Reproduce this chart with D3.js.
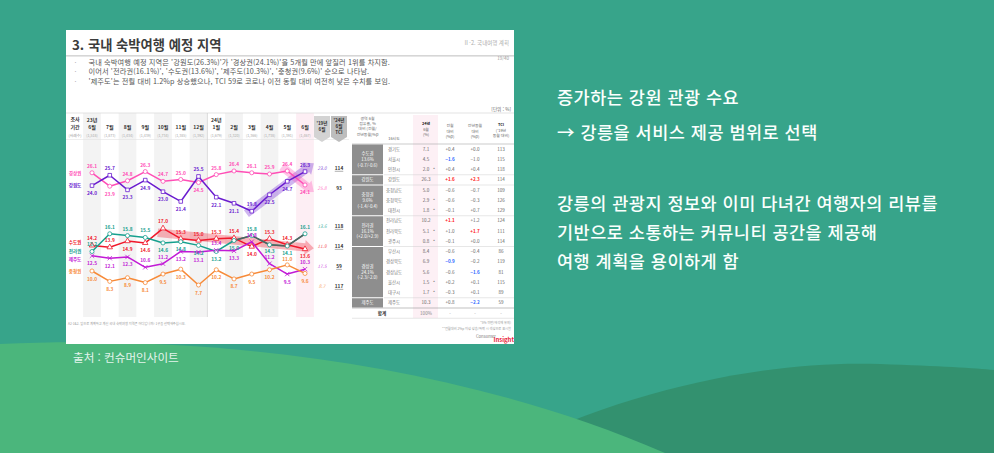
<!DOCTYPE html>
<html lang="ko">
<head>
<meta charset="utf-8">
<script src="https://cdn.jsdelivr.net/npm/d3@7"></script>
<style>
  body { margin: 0; background: #37a48a; overflow: hidden; }
  svg text { font-family: "Noto Sans CJK KR", "Noto Sans", sans-serif; }
</style>
</head>
<body>
<svg id="slide" width="994" height="453"></svg>
<script>
// ---- values ----
const months = ["23년 6월","7월","8월","9월","10월","11월","12월","24년 1월","2월","3월","4월","5월","6월"];
const sampleSizes = ["1,518","1,873","1,434","1,439","1,734","1,385","1,392","1,679","1,320","1,366","1,738","1,391","1,467"];

const seriesNames = ["경상권","강원도","수도권","전라권","제주도","충청권"];
const gyeongsang  = [26.1,23.9,24.8,26.3,24.7,25.0,24.5,25.8,26.4,26.1,25.9,26.4,24.1];
const gangwon     = [24.0,25.7,23.3,24.9,23.0,21.4,25.5,22.1,21.1,19.8,22.5,24.7,26.3];
const sudo        = [14.2,13.9,14.9,14.6,17.0,15.3,15.0,15.3,15.4,14.0,15.3,14.3,13.6];
const jeolla      = [13.2,16.1,15.8,15.5,14.6,14.8,14.2,13.2,15.0,15.8,14.3,14.1,16.1];
const jeju        = [12.5,12.1,12.3,10.6,11.2,13.2,13.1,13.4,13.3,14.8,11.2,9.5,10.3];
const chungcheong = [10.0,8.3,8.9,8.1,9.5,10.3,7.7,10.2,8.7,9.5,10.2,11.0,9.6];
const share2019   = [25.8,23.0,11.9,13.6,17.5,8.7];
const tci2024     = [93,114,114,118,59,117];

// trend highlights (series, first month index, last month index)
const trendNames = ["강원도","경상권","수도권"];
const trendFrom  = [9,11,4];
const trendTo    = [12,12,12];

// right-hand table
const regions      = ["수도권","강원도","충청권","전라권","경상권","제주도"];
const regionShare  = ["13.6%","","9.6%","16.1%","24.1%",""];
const regionChange = ["(-0.7/-0.6)","","(-1.4/-0.4)","(+2.0/+2.9)","(-2.3/-2.0)",""];
const regionSize   = [3,1,3,3,5,1];
const provinces  = ["경기도","서울시","인천시","강원도","충청남도","충청북도","대전시","전라남도","전라북도","광주시","부산시","경상북도","경상남도","울산시","대구시","제주도"];
const provShare  = [7.1,4.5,2.0,26.3,5.0,2.9,1.8,10.2,5.1,0.8,8.4,6.9,5.6,1.5,1.7,10.3];
const provSmall  = [0,0,1,0,0,1,1,0,1,1,0,0,0,1,1,0];
const provMoM    = [0.4,-1.6,0.4,1.6,-0.6,-0.6,-0.1,1.1,1.0,-0.1,-0.6,-0.9,-0.6,0.2,-0.3,0.8];
const provYoY    = [0.0,-1.0,0.4,2.3,-0.7,-0.3,0.7,1.2,1.7,0.0,-0.4,-0.2,-1.6,0.1,0.1,-2.2];
const provSigMoM = [0,1,0,1,0,0,0,1,0,0,0,1,0,0,0,0];
const provSigYoY = [0,0,0,1,0,0,0,0,1,0,0,0,1,0,0,1];
const provTCI    = [113,115,118,114,109,126,129,124,111,114,86,119,81,115,89,59];

const seriesValues = [gyeongsang, gangwon, sudo, jeolla, jeju, chungcheong];
const seriesStyle = {
  "경상권": {color: "#ff4fb6", symbol: d3.symbolCircle},
  "강원도": {color: "#6a1ccf", symbol: d3.symbolSquare},
  "수도권": {color: "#f0182b", symbol: d3.symbolTriangle},
  "전라권": {color: "#16a08e", symbol: d3.symbolCircle, late: "#56605d"},
  "제주도": {color: "#c21ad6", symbol: d3.symbolX},
  "충청권": {color: "#f78a38", symbol: d3.symbolCircle}
};

const svg = d3.select("#slide");

// ---- slide background ----
svg.append("rect").attr("width", 994).attr("height", 453).attr("fill", "#37a48a");
svg.append("path").attr("d", "M500,453 C620,392 760,360 880,364 C940,366 975,368 994,370 L994,453 Z").attr("fill", "#33916f");
svg.append("path").attr("d", "M0,344 C200,335 450,360 665,453 L0,453 Z").attr("fill", "#4bb67c");

// ---- report panel ----
const panel = svg.append("g");
panel.append("rect").attr("x", 66).attr("y", 30).attr("width", 448).attr("height", 314).attr("fill", "#fff");

panel.append("text").attr("x", 72).attr("y", 49.5).attr("font-size", 13.3).attr("font-weight", 700)
  .attr("fill", "#3c3c3c").text("3. 국내 숙박여행 예정 지역");
panel.append("rect").attr("x", 66).attr("y", 55).attr("width", 448).attr("height", 1.6).attr("fill", "#d6d6d6");
panel.append("text").attr("x", 509).attr("y", 45).attr("text-anchor", "end").attr("font-size", 5.5)
  .attr("fill", "#aaa").text("Ⅱ-2. 국내여행 계획");
panel.append("text").attr("x", 509).attr("y", 60).attr("text-anchor", "end").attr("font-size", 4.5)
  .attr("fill", "#999").text("19/40");

const bullets = [
  "국내 숙박여행 예정 지역은 '강원도(26.3%)'가 '경상권(24.1%)'을 5개월 만에 앞질러 1위를 차지함.",
  "이어서 '전라권(16.1%)', '수도권(13.6%)', '제주도(10.3%)', '충청권(9.6%)' 순으로 나타남.",
  "'제주도'는 전월 대비 1.2%p 상승했으나, TCI 59로 코로나 이전 동월 대비 여전히 낮은 수치를 보임."
];
bullets.forEach((b, i) => {
  panel.append("text").attr("x", 74.5).attr("y", 64.8 + i * 9.6).attr("font-size", 7).attr("fill", "#aaa").text("·");
  panel.append("text").attr("x", 88.5).attr("y", 64.8 + i * 9.6).attr("font-size", 7.2)
    .attr("letter-spacing", 0.12).attr("fill", "#555").text(b);
});
panel.append("text").attr("x", 511).attr("y", 111).attr("text-anchor", "end").attr("font-size", 4.6)
  .attr("fill", "#666").text("[단위 : %]");

// ---- line chart ----
const x = d3.scaleLinear().domain([0, months.length - 1]).range([92, 305]);
const colW = x(1) - x(0);
const y = d3.scaleLinear().domain([10, 26]).range([271, 173.4]);

const chart = panel.append("g");
months.forEach((m, i) => {
  if (i % 2 === 0) {
    chart.append("rect").attr("x", x(i) - colW / 2).attr("y", 113).attr("width", colW).attr("height", 204)
      .attr("fill", i === months.length - 1 ? "#fdeef4" : "#f3f3f3");
  }
});
chart.append("line").attr("x1", 66).attr("x2", 514).attr("y1", 113).attr("y2", 113).attr("stroke", "#dcdcdc").attr("stroke-width", 0.8);
chart.append("line").attr("x1", 66).attr("x2", 349).attr("y1", 139.5).attr("y2", 139.5).attr("stroke", "#e3e3e3").attr("stroke-width", 0.6);
chart.append("line").attr("x1", (x(6) + x(7)) / 2).attr("x2", (x(6) + x(7)) / 2).attr("y1", 113).attr("y2", 317)
  .attr("stroke", "#cfcfcf").attr("stroke-width", 0.7);

// header
chart.append("text").attr("x", 75).attr("y", 121).attr("text-anchor", "middle").attr("font-size", 5).attr("font-weight", 700).attr("fill", "#333").text("조사");
chart.append("text").attr("x", 75).attr("y", 128.5).attr("text-anchor", "middle").attr("font-size", 5).attr("font-weight", 700).attr("fill", "#333").text("기간");
chart.append("text").attr("x", 75).attr("y", 136.5).attr("text-anchor", "middle").attr("font-size", 3.8).attr("fill", "#999").text("(사례수)");
months.forEach((m, i) => {
  const parts = m.split(" ");
  parts.forEach((p, k) => {
    chart.append("text").attr("x", x(i)).attr("y", 128.5 - (parts.length - 1 - k) * 7)
      .attr("text-anchor", "middle").attr("font-size", 5).attr("font-weight", 700).attr("fill", "#333").text(p);
  });
  chart.append("text").attr("x", x(i)).attr("y", 136.5).attr("text-anchor", "middle").attr("font-size", 3.6)
    .attr("fill", "#aaa").text("(" + sampleSizes[i] + ")");
});

// trend arrows (least-squares over the highlighted months)
function fitLine(vals, a, b) {
  const xs = d3.range(a, b + 1), ys = xs.map(i => vals[i]);
  const mx = d3.mean(xs), my = d3.mean(ys);
  const sxx = d3.sum(xs, t => (t - mx) * (t - mx));
  const slope = sxx ? d3.sum(xs, (t, k) => (t - mx) * (ys[k] - my)) / sxx : 0;
  return t => my + slope * (t - mx);
}
trendNames.forEach((name, k) => {
  const vals = seriesValues[seriesNames.indexOf(name)];
  const f = fitLine(vals, trendFrom[k], trendTo[k]);
  const t0 = trendFrom[k] - 0.3, t1 = trendTo[k] + 0.5;
  const p0 = [x(t0), y(f(t0))], p1 = [x(t1), y(f(t1))];
  const len = Math.hypot(p1[0] - p0[0], p1[1] - p0[1]);
  const u = [(p1[0] - p0[0]) / len, (p1[1] - p0[1]) / len], n = [-u[1], u[0]];
  const hw = 4.2, hh = 7.5, hl = 9;
  const base = [p1[0] - u[0] * hl, p1[1] - u[1] * hl];
  const pts = [
    [p0[0] + n[0] * hw, p0[1] + n[1] * hw], [base[0] + n[0] * hw, base[1] + n[1] * hw],
    [base[0] + n[0] * hh, base[1] + n[1] * hh], p1,
    [base[0] - n[0] * hh, base[1] - n[1] * hh], [base[0] - n[0] * hw, base[1] - n[1] * hw],
    [p0[0] - n[0] * hw, p0[1] - n[1] * hw]
  ];
  chart.append("path").attr("d", "M" + pts.map(p => p.join(",")).join("L") + "Z")
    .attr("fill", seriesStyle[name].color).attr("opacity", 0.32);
});

// lines
const line = d3.line().x((d, i) => x(i)).y(d => y(d));
seriesNames.forEach((name, s) => {
  const st = seriesStyle[name];
  chart.append("path").datum(seriesValues[s]).attr("d", line).attr("fill", "none")
    .attr("stroke", st.color).attr("stroke-width", 1.5).attr("stroke-linejoin", "round");
  if (st.late) {
    const lateLine = d3.line().x((d, i) => x(i + 8)).y(d => y(d));
    chart.append("path").datum(seriesValues[s].slice(8)).attr("d", lateLine).attr("fill", "none")
      .attr("stroke", st.late).attr("stroke-width", 1.5);
  }
});

// spread helper for stacked labels
function spread(ys, gap) {
  const out = ys.slice();
  const order = d3.range(out.length).sort((a, b) => out[a] - out[b]);
  for (let it = 0; it < 80; it++) {
    for (let k = 1; k < order.length; k++) {
      const a = order[k - 1], b = order[k], d = out[b] - out[a];
      if (d < gap) { out[a] -= (gap - d) / 2; out[b] += (gap - d) / 2; }
    }
  }
  return out;
}

// value label positions: above unless the nearest other series sits above the point
const labelY = seriesNames.map(() => []);
months.forEach((m, i) => {
  const raw = seriesValues.map((vals, s) => {
    const d = vals[i];
    let nearest = null, best = Infinity;
    seriesValues.forEach((o, j) => {
      if (j !== s && Math.abs(o[i] - d) < best) { best = Math.abs(o[i] - d); nearest = o[i]; }
    });
    return nearest > d ? y(d) + 9.5 : y(d) - 5;
  });
  const spaced = spread(raw, 6);
  spaced.forEach((v, s) => { labelY[s][i] = v; });
});

// markers and value labels
seriesNames.forEach((name, s) => {
  const st = seriesStyle[name];
  const sym = d3.symbol().type(st.symbol).size(st.symbol === d3.symbolX ? 14 : 13);
  chart.selectAll(null).data(seriesValues[s]).join("path")
    .attr("transform", (d, i) => `translate(${x(i)},${y(d)})`)
    .attr("d", sym).attr("fill", st.symbol === d3.symbolX ? "none" : "#fff")
    .attr("stroke", st.color).attr("stroke-width", 0.8);
  chart.selectAll(null).data(seriesValues[s]).join("text")
    .attr("x", (d, i) => x(i))
    .attr("y", (d, i) => labelY[s][i])
    .attr("text-anchor", "middle").attr("font-size", 4.8).attr("font-weight", 700)
    .attr("fill", st.color).text(d => d3.format(".1f")(d));
});

// series names on the left
const nameY = spread(seriesValues.map(v => y(v[0])), 8.5);
seriesNames.forEach((name, s) => {
  chart.append("text").attr("x", 75).attr("y", nameY[s] + 1.8).attr("text-anchor", "middle")
    .attr("font-size", 4.6).attr("font-weight", 700).attr("fill", seriesStyle[name].color).text(name);
});

// '19년 6월 and TCI columns
const side = d3.scaleBand().domain(["y19", "tci"]).range([314, 347]).paddingInner(0.06);
[["y19", "#d3d3d3", ["'19년", "6월"]], ["tci", "#bdbdbd", ["'24년", "6월", "TCI"]]].forEach(([key, fill, lines]) => {
  const x0 = side(key), w = side.bandwidth();
  chart.append("path").attr("d", `M${x0},116 H${x0 + w} V137 L${x0 + w / 2},142 L${x0},137 Z`).attr("fill", fill);
  lines.forEach((t, k) => {
    chart.append("text").attr("x", x0 + w / 2).attr("y", (lines.length === 2 ? 124.5 : 121.5) + k * 6.3)
      .attr("text-anchor", "middle").attr("font-size", 4.6).attr("font-weight", 700).attr("fill", "#333").text(t);
  });
});
const sideY = spread(seriesValues.map(v => y(v[v.length - 1])), 20);
seriesNames.forEach((name, s) => {
  chart.append("text").attr("x", side("y19") + side.bandwidth() / 2).attr("y", sideY[s] + 1.8)
    .attr("text-anchor", "middle").attr("font-size", 4.6).attr("font-style", "italic")
    .attr("fill", seriesStyle[name].color).attr("opacity", 0.75).text(d3.format(".1f")(share2019[s]));
  const cx = side("tci") + side.bandwidth() / 2;
  const t = chart.append("text").attr("x", cx).attr("y", sideY[s] + 1.8).attr("text-anchor", "middle")
    .attr("font-size", 4.8).attr("font-weight", 700).attr("fill", "#333").text(tci2024[s]);
  if (tci2024[s] !== 93) {
    const w = t.node().getComputedTextLength();
    chart.append("line").attr("x1", cx - w / 2).attr("x2", cx + w / 2).attr("y1", sideY[s] + 3)
      .attr("y2", sideY[s] + 3).attr("stroke", "#333").attr("stroke-width", 0.4);
  }
});

// ---- table ----
const table = panel.append("g");
const cols = {region: 367.5, prov: 394, share: 426, mom: 450, yoy: 475, tci: 501};
const rowTop = 144, rowH = 10.25;
table.append("rect").attr("x", 413).attr("y", 115).attr("width", 25).attr("height", 203).attr("fill", "#fdf0f5");
table.append("line").attr("x1", 352).attr("x2", 514).attr("y1", 144).attr("y2", 144).attr("stroke", "#aaa").attr("stroke-width", 0.6);

const headers = [
  [cols.region, ["광역 6월", "점유율, %", "대비 (전월/", "전년동월)%p"], 120, 5.2, false],
  [cols.prov, ["16시도"], 140, 5.2, false],
  [cols.share, ["24년", "6월", "(%)"], 125, 5.5, true],
  [cols.mom, ["전월", "대비", "(%p)"], 127, 5.5, false],
  [cols.yoy, ["전년동월", "대비", "(%p)"], 127, 5.5, false],
  [cols.tci, ["TCI", "('19년", "동월 대비)"], 126, 5.5, true]
];
headers.forEach(([cx, lines, y0, lh, boldTop]) => {
  lines.forEach((t, k) => {
    table.append("text").attr("x", cx).attr("y", y0 + k * lh).attr("text-anchor", "middle")
      .attr("font-size", 3.9).attr("font-weight", boldTop && k < (lines.length === 3 && t !== "(%)" ? 1 : 2) ? 700 : 400)
      .attr("fill", boldTop && k === 0 ? "#222" : "#666").text(t);
  });
});

let start = 0;
regions.forEach((r, g) => {
  const top = rowTop + start * rowH, h = regionSize[g] * rowH;
  table.append("rect").attr("x", 352).attr("y", top + 0.5).attr("width", 31).attr("height", h - 1).attr("fill", "#8e8e8e");
  const lines = [r, regionShare[g], regionChange[g]].filter(t => t);
  lines.forEach((t, k) => {
    table.append("text").attr("x", cols.region).attr("y", top + h / 2 + 1.6 + (k - (lines.length - 1) / 2) * 5.6)
      .attr("text-anchor", "middle").attr("font-size", 4.4).attr("fill", "#fff").text(t);
  });
  if (g > 0) table.append("line").attr("x1", 384).attr("x2", 514).attr("y1", top).attr("y2", top)
    .attr("stroke", "#cfcfcf").attr("stroke-width", 0.5);
  start += regionSize[g];
});

const fmtSigned = d3.format("+.1f");
provinces.forEach((p, i) => {
  const cy = rowTop + i * rowH + rowH / 2 + 1.6;
  table.append("text").attr("x", cols.prov).attr("y", cy).attr("text-anchor", "middle").attr("font-size", 4.4).attr("fill", "#777").text(p);
  table.append("text").attr("x", cols.share).attr("y", cy).attr("text-anchor", "middle").attr("font-size", 4.6).attr("fill", "#666").text(d3.format(".1f")(provShare[i]));
  if (provSmall[i]) table.append("text").attr("x", cols.share + 8).attr("y", cy).attr("text-anchor", "middle").attr("font-size", 4.4).attr("fill", "#666").text("*");
  [[cols.mom, provMoM[i], provSigMoM[i]], [cols.yoy, provYoY[i], provSigYoY[i]]].forEach(([cx, v, sig]) => {
    table.append("text").attr("x", cx).attr("y", cy).attr("text-anchor", "middle").attr("font-size", 4.6)
      .attr("font-weight", sig ? 700 : 400).attr("fill", sig ? (v > 0 ? "#ff1a1a" : "#2f6bff") : "#666").text(fmtSigned(v));
  });
  table.append("text").attr("x", cols.tci).attr("y", cy).attr("text-anchor", "middle").attr("font-size", 4.6).attr("fill", "#666").text(provTCI[i]);
});
const totalTop = rowTop + provinces.length * rowH;
table.append("line").attr("x1", 352).attr("x2", 514).attr("y1", totalTop).attr("y2", totalTop).attr("stroke", "#999").attr("stroke-width", 0.6);
table.append("line").attr("x1", 352).attr("x2", 514).attr("y1", totalTop + rowH).attr("y2", totalTop + rowH).attr("stroke", "#ccc").attr("stroke-width", 0.5);
table.append("text").attr("x", 382).attr("y", totalTop + rowH / 2 + 1.7).attr("text-anchor", "middle").attr("font-size", 4.6).attr("font-weight", 700).attr("fill", "#333").text("합계");
table.append("text").attr("x", cols.share).attr("y", totalTop + rowH / 2 + 1.7).attr("text-anchor", "middle").attr("font-size", 4.6).attr("fill", "#888").text("100%");
[cols.mom, cols.yoy, cols.tci].forEach(cx => {
  table.append("text").attr("x", cx).attr("y", totalTop + rowH / 2 + 1.7).attr("text-anchor", "middle").attr("font-size", 4.6).attr("fill", "#999").text("-");
});

// footnotes and logo
panel.append("text").attr("x", 68).attr("y", 325).attr("font-size", 3.2).attr("fill", "#999")
  .text("A2-1&2. 앞으로 계획하고 계신 국내 숙박여행 지역은 어디입니까? 1곳을 선택해주십시오.");
panel.append("text").attr("x", 511).attr("y", 324).attr("text-anchor", "end").attr("font-size", 3.2).attr("fill", "#999").text("*5% 미만(해석에 유의)");
panel.append("text").attr("x", 511).attr("y", 329.5).attr("text-anchor", "end").attr("font-size", 3.2).attr("fill", "#999").text("**전월대비 2%p 이상 상승/하락 시 색상으로 표시함");
panel.append("text").attr("x", 496).attr("y", 338).attr("text-anchor", "end").attr("font-size", 4.2).attr("fill", "#777").text("Consumer");
panel.append("text").attr("x", 514).attr("y", 342).attr("text-anchor", "end").attr("font-size", 6).attr("font-weight", 700).attr("fill", "#e8233a").text("Insight");

// source line under the panel
svg.append("text").attr("x", 73).attr("y", 362).attr("font-size", 11.6).attr("fill", "#e3f4ec").text("출처 : 컨슈머인사이트");

// ---- right-hand notes ----
const notes = [
  ["증가하는 강원 관광 수요", 104],
  ["→ 강릉을 서비스 제공 범위로 선택", 139],
  ["강릉의 관광지 정보와 이미 다녀간 여행자의 리뷰를", 210],
  ["기반으로 소통하는 커뮤니티 공간을 제공해", 239],
  ["여행 계획을 용이하게 함", 268]
];
notes.forEach(([t, ny]) => {
  svg.append("text").attr("x", 557).attr("y", ny).attr("font-size", 17.5).attr("font-weight", 500)
    .attr("letter-spacing", 0.5).attr("fill", "#fbfffd").text(t);
});
</script>
</body>
</html>
